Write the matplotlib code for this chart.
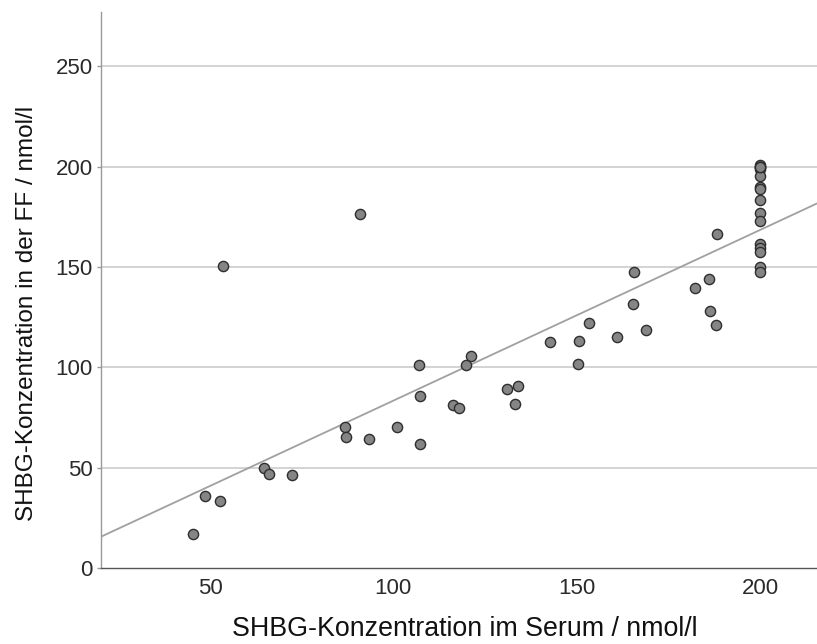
import numpy as np
import matplotlib
matplotlib.use("Agg")
import matplotlib.pyplot as plt

plt.rcParams['font.family'] = ['Liberation Sans', 'DejaVu Sans']

serum = [90.9, 53.6, 188.3, 165.5, 186.0, 182.3, 165.3, 186.3, 187.9, 153.3,
         168.8, 161.0, 142.7, 150.6, 150.4, 121.2, 119.9, 134.0, 130.9, 133.2,
         116.3, 117.9, 107.1, 107.3, 107.4, 101.0, 93.3, 86.9, 87.2, 72.5,
         64.7, 66.1, 48.6, 52.8, 45.3,
         200, 200, 200, 200, 200, 200, 200, 200, 200, 200, 200, 200, 200, 200,
         200, 200]
ff = [176.5, 150.4, 166.5, 147.5, 144.0, 139.4, 131.4, 127.9, 120.9, 122.1,
      118.8, 114.9, 112.4, 113.1, 101.5, 105.4, 101.3, 90.5, 89.3, 81.7,
      81.3, 79.5, 101.3, 85.7, 62.0, 70.2, 64.5, 70.2, 65.5, 46.4,
      50.0, 46.7, 36.1, 33.3, 16.8,
      201, 200, 199, 195.5, 190, 188.6, 183.5, 177, 172.8, 161.5, 159.3, 157.5, 150, 147.4,
      200, 200]

x_ticks = [50, 100, 150, 200]
y_ticks = [0, 50, 100, 150, 200, 250]
x_label = "SHBG-Konzentration im Serum / nmol/l"
y_label = "SHBG-Konzentration in der FF / nmol/l"

fig = plt.figure(figsize=(8.17, 6.44), dpi=100)
ax = fig.add_axes([101/817, 76/644, 716/817, 556/644])

xlim = (20.3, 215.5)
ylim = (0, 277)

ax.set_xlim(*xlim)
ax.set_ylim(*ylim)

for yt in y_ticks[1:]:
    ax.axhline(yt, color='#d0d0d0', lw=1.3, zorder=0)

slope, intercept = np.polyfit(serum, ff, 1)
xs = np.array(xlim)
ax.plot(xs, intercept + slope * xs, color='#a0a0a0', lw=1.3, zorder=1)

ax.scatter(serum, ff, s=54, facecolor='#858585', edgecolor='#2e2e2e',
           linewidths=1.0, zorder=3)

ax.set_xticks(x_ticks)
ax.set_yticks(y_ticks)
ax.tick_params(axis='x', length=0, pad=7, labelsize=16, colors='#2a2a2a')
ax.tick_params(axis='y', length=3, width=1, color='#999999', pad=3,
               labelsize=16, labelcolor='#2a2a2a')

for s in ['top', 'right']:
    ax.spines[s].set_visible(False)
ax.spines['left'].set_color('#999999')
ax.spines['bottom'].set_color('#555555')
ax.spines['left'].set_linewidth(1.0)
ax.spines['bottom'].set_linewidth(1.0)

ax.set_xlabel(x_label, fontsize=19.3, color='#111111')
ax.set_ylabel(y_label, fontsize=17.5, color='#111111')
ax.xaxis.set_label_coords(0.508, -0.0863)
ax.yaxis.set_label_coords(-0.088, 0.4586)

fig.savefig("out.png", dpi=100)
